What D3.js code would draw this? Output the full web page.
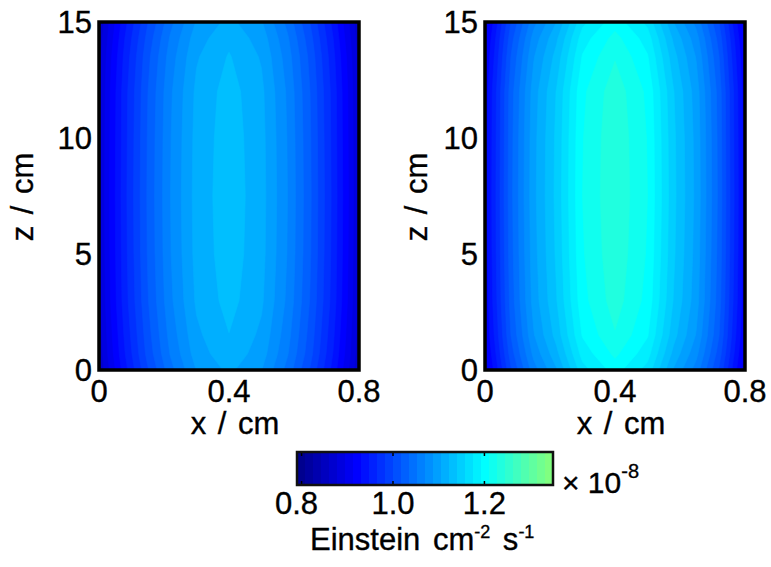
<html>
<head>
<script src="https://d3js.org/d3.v7.min.js"></script>
<style>
    body { margin: 0; background: #fff; }
    text { font-family: "Liberation Sans", Arial, sans-serif; fill: #000; stroke: #000; stroke-width: 0.35; }
</style>
</head>
<body>
<svg id="chart" width="771" height="567"></svg>
<script>
// sample positions (cm) and photon flux (x 10^-8 Einstein cm-2 s-1)
const xGrid = [0, 0.03, 0.08, 0.15, 0.22, 0.3, 0.4, 0.5, 0.58, 0.65, 0.72, 0.77, 0.8];
const zGrid = [0, 0.7, 1.5, 3, 5, 7.5, 10, 12, 13.5, 14.3, 15];

// rows go from z = 0 (bottom) to z = 15 (top)
const leftField = [
    [0.861, 0.893, 0.941, 0.998, 1.046, 1.088, 1.109, 1.088, 1.046, 0.998, 0.941, 0.893, 0.861],
    [0.865, 0.899, 0.947, 1.006, 1.054, 1.096, 1.117, 1.096, 1.054, 1.006, 0.947, 0.899, 0.865],
    [0.868, 0.902, 0.951, 1.010, 1.059, 1.101, 1.122, 1.101, 1.059, 1.010, 0.951, 0.902, 0.868],
    [0.873, 0.907, 0.957, 1.016, 1.066, 1.108, 1.129, 1.108, 1.066, 1.016, 0.957, 0.907, 0.873],
    [0.874, 0.909, 0.959, 1.019, 1.069, 1.111, 1.132, 1.111, 1.069, 1.019, 0.959, 0.909, 0.874],
    [0.875, 0.910, 0.960, 1.020, 1.070, 1.112, 1.133, 1.112, 1.070, 1.020, 0.960, 0.910, 0.875],
    [0.874, 0.909, 0.959, 1.019, 1.069, 1.111, 1.132, 1.111, 1.069, 1.019, 0.959, 0.909, 0.874],
    [0.873, 0.908, 0.958, 1.017, 1.067, 1.109, 1.130, 1.109, 1.067, 1.017, 0.958, 0.908, 0.873],
    [0.870, 0.904, 0.953, 1.012, 1.061, 1.103, 1.124, 1.103, 1.061, 1.012, 0.953, 0.904, 0.870],
    [0.866, 0.899, 0.948, 1.006, 1.055, 1.097, 1.118, 1.097, 1.055, 1.006, 0.948, 0.899, 0.866],
    [0.861, 0.894, 0.942, 0.999, 1.047, 1.089, 1.110, 1.089, 1.047, 0.999, 0.942, 0.894, 0.861]
];

const rightField = [
    [0.899, 0.935, 0.998, 1.062, 1.103, 1.168, 1.200, 1.168, 1.103, 1.062, 0.998, 0.935, 0.899],
    [0.906, 0.943, 1.009, 1.075, 1.117, 1.182, 1.214, 1.182, 1.117, 1.075, 1.009, 0.943, 0.906],
    [0.912, 0.950, 1.018, 1.086, 1.129, 1.194, 1.226, 1.194, 1.129, 1.086, 1.018, 0.950, 0.912],
    [0.917, 0.956, 1.025, 1.095, 1.139, 1.204, 1.236, 1.204, 1.139, 1.095, 1.025, 0.956, 0.917],
    [0.919, 0.959, 1.028, 1.098, 1.143, 1.208, 1.240, 1.208, 1.143, 1.098, 1.028, 0.959, 0.919],
    [0.920, 0.960, 1.030, 1.100, 1.145, 1.210, 1.242, 1.210, 1.145, 1.100, 1.030, 0.960, 0.920],
    [0.920, 0.959, 1.029, 1.099, 1.144, 1.209, 1.241, 1.209, 1.144, 1.099, 1.029, 0.959, 0.920],
    [0.918, 0.958, 1.027, 1.096, 1.141, 1.206, 1.238, 1.206, 1.141, 1.096, 1.027, 0.958, 0.918],
    [0.912, 0.950, 1.018, 1.086, 1.129, 1.194, 1.226, 1.194, 1.129, 1.086, 1.018, 0.950, 0.912],
    [0.907, 0.944, 1.010, 1.077, 1.119, 1.184, 1.216, 1.184, 1.119, 1.077, 1.010, 0.944, 0.907],
    [0.900, 0.936, 1.000, 1.064, 1.105, 1.170, 1.202, 1.170, 1.105, 1.064, 1.000, 0.936, 0.900]
];

const xTicks = [0, 0.4, 0.8];
const zTicks = [0, 5, 10, 15];
const cbarTicks = [0.8, 1.0, 1.2];
const cbarDomain = [0.79, 1.35];
const nLevels = 32;

const svg = d3.select("#chart");
const fs = 31;

// first half of matlab jet, 32 steps
const jet = d3.scaleLinear()
    .domain([0, 7, 23, 31])
    .range(["rgb(0,0,143)", "rgb(0,0,255)", "rgb(0,255,255)", "rgb(128,255,128)"]);

const levelScale = d3.scaleLinear().domain(cbarDomain).range([0, nLevels]);
const thresholds = d3.range(nLevels).map(k => levelScale.invert(k));

function drawPanel(field, box, zLabelX, id) {
    const xScale = d3.scaleLinear().domain([0, 0.8]).range([box.left, box.right]);
    const zScale = d3.scaleLinear().domain([0, 15]).range([box.bottom, box.top]);

    // contour coords: grid sample i sits at i + 0.5, samples are not evenly spaced
    const gx = d3.scaleLinear().domain(xGrid.map((d, i) => i + 0.5)).range(xGrid);
    const gz = d3.scaleLinear().domain(zGrid.map((d, i) => i + 0.5)).range(zGrid);

    const proj = d3.geoTransform({
        point: function (x, y) { this.stream.point(xScale(gx(x)), zScale(gz(y))); }
    });
    const path = d3.geoPath(proj);

    const bands = d3.contours()
        .size([xGrid.length, zGrid.length])
        .thresholds(thresholds)(field.flat());

    svg.append("clipPath").attr("id", id)
        .append("rect")
        .attr("x", box.left).attr("y", box.top)
        .attr("width", box.right - box.left).attr("height", box.bottom - box.top);

    const g = svg.append("g").attr("clip-path", "url(#" + id + ")");
    bands.forEach((b, k) => {
        g.append("path")
            .attr("d", path(b))
            .attr("fill", jet(k))
            .attr("stroke", jet(k))
            .attr("stroke-width", 0.6);
    });

    svg.append("rect")
        .attr("x", box.left).attr("y", box.top)
        .attr("width", box.right - box.left).attr("height", box.bottom - box.top)
        .attr("fill", "none").attr("stroke", "#000").attr("stroke-width", 3.5);

    svg.append("g").selectAll("text").data(zTicks).join("text")
        .attr("x", box.left - 7)
        .attr("y", d => zScale(d))
        .attr("dy", "0.36em")
        .attr("text-anchor", "end")
        .attr("font-size", fs)
        .text(d => d);

    svg.append("g").selectAll("text").data(xTicks).join("text")
        .attr("x", d => xScale(d))
        .attr("y", box.bottom + 32)
        .attr("text-anchor", "middle")
        .attr("font-size", fs)
        .text(d => d === 0 ? "0" : d3.format(".1f")(d));

    svg.append("text")
        .attr("x", (box.left + box.right) / 2 + 6)
        .attr("y", 434)
        .attr("text-anchor", "middle")
        .attr("font-size", fs)
        .attr("word-spacing", 3)
        .text("x / cm");

    svg.append("text")
        .attr("transform", "translate(" + zLabelX + ",197) rotate(-90)")
        .attr("text-anchor", "middle")
        .attr("font-size", fs)
        .attr("word-spacing", 3)
        .text("z / cm");
}

drawPanel(leftField, { left: 99, right: 359, top: 22, bottom: 370 }, 33, "clipL");
drawPanel(rightField, { left: 485, right: 745, top: 22, bottom: 370 }, 427, "clipR");

// colorbar
const cb = { left: 297, right: 553, top: 452, bottom: 485 };
const cbScale = d3.scaleLinear().domain(cbarDomain).range([cb.left, cb.right]);

svg.append("g").selectAll("rect").data(d3.range(nLevels)).join("rect")
    .attr("x", k => cbScale(thresholds[k]))
    .attr("y", cb.top)
    .attr("width", k => cbScale(levelScale.invert(k + 1)) - cbScale(thresholds[k]) + 0.5)
    .attr("height", cb.bottom - cb.top)
    .attr("fill", k => jet(k));

const cbAxis = svg.append("g");
cbarTicks.forEach(t => {
    cbAxis.append("line")
        .attr("x1", cbScale(t)).attr("x2", cbScale(t))
        .attr("y1", cb.top).attr("y2", cb.top + 4)
        .attr("stroke", "#000").attr("stroke-width", 1.5);
    cbAxis.append("line")
        .attr("x1", cbScale(t)).attr("x2", cbScale(t))
        .attr("y1", cb.bottom - 4).attr("y2", cb.bottom)
        .attr("stroke", "#000").attr("stroke-width", 1.5);
    cbAxis.append("text")
        .attr("x", cbScale(t) - (t === 0.8 ? 5 : 0))
        .attr("y", 514)
        .attr("text-anchor", "middle")
        .attr("font-size", fs)
        .text(d3.format(".1f")(t));
});

svg.append("rect")
    .attr("x", cb.left).attr("y", cb.top)
    .attr("width", cb.right - cb.left).attr("height", cb.bottom - cb.top)
    .attr("fill", "none").attr("stroke", "#111").attr("stroke-width", 2.5);

const mult = svg.append("text").attr("x", 562).attr("y", 493).attr("font-size", 30);
mult.append("tspan").text("\u00d7 10");
mult.append("tspan").attr("dy", -15).attr("font-size", 20).text("-8");

const unit = svg.append("text").attr("x", 310).attr("y", 550).attr("font-size", fs).attr("word-spacing", 4);
unit.append("tspan").text("Einstein cm");
unit.append("tspan").attr("dy", -12).attr("font-size", 18).text("-2");
unit.append("tspan").attr("dy", 12).text(" s");
unit.append("tspan").attr("dy", -12).attr("font-size", 18).text("-1");
</script>
</body>
</html>
